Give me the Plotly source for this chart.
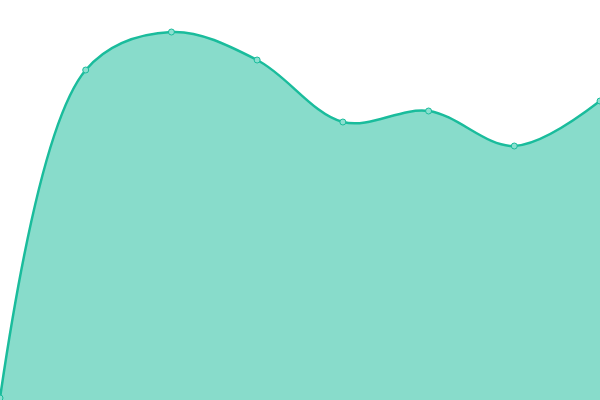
import plotly.graph_objects as go

# data
x_vals = [0, 1, 2, 3, 4, 5, 6, 7]
y_vals = [2, 330, 368, 340, 278, 289, 254, 299]

LINE = "#1abc9c"
FILL = "rgba(26,188,156,0.52)"

fig = go.Figure()
fig.add_trace(go.Scatter(
    x=x_vals, y=y_vals,
    mode="lines+markers",
    line=dict(color=LINE, width=2.5, shape="spline", smoothing=1),
    marker=dict(size=6, color="#8be0d0", line=dict(color=LINE, width=1)),
    fill="tozeroy",
    fillcolor=FILL,
    cliponaxis=False,
    hoverinfo="skip",
))

fig.update_layout(
    width=600, height=400,
    margin=dict(l=0, r=0, t=0, b=0),
    paper_bgcolor="white",
    plot_bgcolor="white",
    showlegend=False,
    xaxis=dict(range=[0, 7], visible=False, fixedrange=True),
    yaxis=dict(range=[0, 400], visible=False, fixedrange=True),
)

# drop the default 8px body margin so the chart fills the window
fig.write_html(
    "out.html",
    config={"displayModeBar": False},
    post_script="document.body.style.margin='0';document.body.style.overflow='hidden';",
)
